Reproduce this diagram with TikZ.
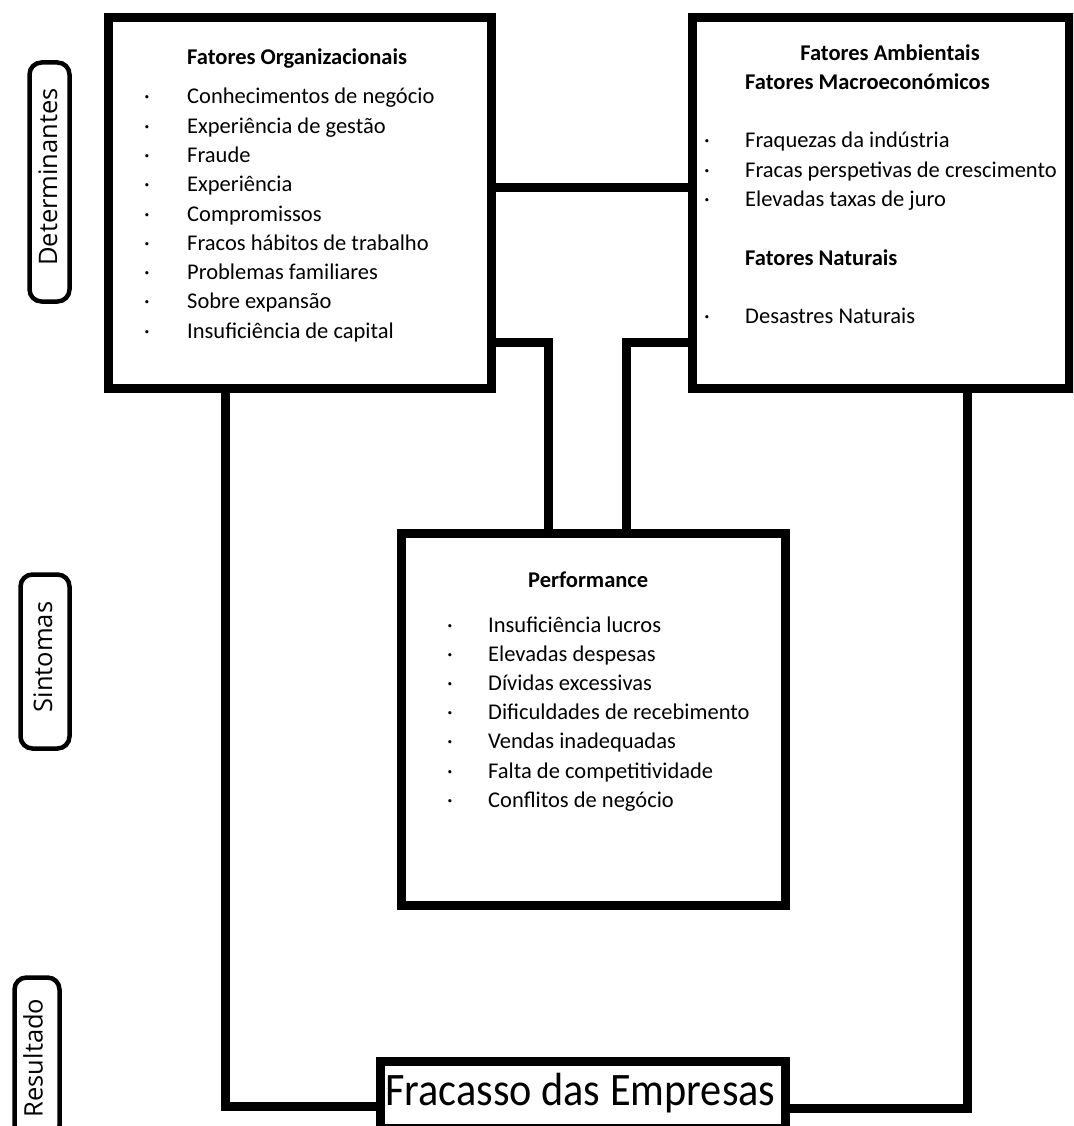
\documentclass[tikz,border=0pt]{standalone}
\usepackage{fontspec}
\usepackage{graphicx}
\setmainfont{Carlito}
\newfontfamily\tagfont{Open Sans}
\tikzset{
  bigbox/.style={draw, rectangle, line width=9pt, inner sep=0pt, outer sep=0pt},
  tagbox/.style={draw, rectangle, line width=4.5pt, rounded corners=12pt, inner sep=0pt, outer sep=0pt},
  tagtxt/.style={rotate=90, inner sep=0pt, font=\tagfont\fontsize{25.5}{30}\selectfont},
  conn/.style={line width=9pt},
  txt/.style={anchor=base west, inner sep=0pt, font=\fontsize{22.5}{27}\selectfont},
  hd/.style={anchor=base west, inner sep=0pt, font=\bfseries\fontsize{22.5}{27}\selectfont},
  bul/.style={anchor=base, inner sep=0pt, font=\fontsize{22.5}{27}\selectfont}
}
\begin{document}
\begin{tikzpicture}[x=1pt,y=-1pt]
\clip (0,0) rectangle (1073,1126);
\fill[white] (0,0) rectangle (1073,1126);

% main boxes
\node[bigbox, minimum width=383pt, minimum height=371pt] (org) at (299.5,202.75) {};
\node[bigbox, minimum width=377pt, minimum height=371pt] (env) at (880.5,202.75) {};
\node[bigbox, minimum width=383.5pt, minimum height=371.5pt] (perf) at (593.25,719.25) {};
\node[bigbox, minimum width=405pt, minimum height=67pt] (fail) at (582.5,1094.5) {};

% connector bends
\coordinate (jtop) at (0,187.5);
\coordinate (jl) at (548.5,342);
\coordinate (jr) at (626.5,342);
\coordinate (bl) at (225,1106);
\coordinate (br) at (967,1108);

\draw[conn] (org.east |- jtop) -- (env.west |- jtop);
\draw[conn] (org.east |- jl) -- (jl) -- (perf.north -| jl);
\draw[conn] (env.west |- jr) -- (jr) -- (perf.north -| jr);
\draw[conn] (org.south -| bl) -- (bl) -- (fail.west |- bl);
\draw[conn] (env.south -| br) -- (br) -- (fail.east |- br);

% side tags
\node[tagbox, minimum width=40pt, minimum height=239pt] (tdet) at (49.5,182) {};
\node[tagtxt] (tdettxt) at (48,177) {Determinantes};
\node[tagbox, minimum width=49pt, minimum height=174pt] (tsin) at (45,661.5) {};
\node[tagtxt] (tsintxt) at (43,657) {Sintomas};
\node[tagbox, minimum width=45pt, minimum height=160pt] (tres) at (37,1057.5) {};
\node[tagtxt] (trestxt) at (33,1058) {Resultado};

% Fatores Organizacionais
\node[hd] (orgh) at (187,65) {Fatores Organizacionais};
\foreach \t [count=\i from 0] in {Conhecimentos de negócio, Experiência de gestão, Fraude, Experiência, Compromissos, Fracos hábitos de trabalho, Problemas familiares, Sobre expansão, Insuficiência de capital}{
  \node[bul] (orgb\i) at (147,104+29.25*\i) {·};
  \node[txt] (orgt\i) at (187,104+29.25*\i) {\t};
}

% Fatores Ambientais
\node[hd, anchor=base] (envh1) at (890,61) {Fatores Ambientais};
\node[hd] (envh2) at (745,90) {Fatores Macroeconómicos};
\foreach \t [count=\i from 0] in {Fraquezas da indústria, Fracas perspetivas de crescimento, Elevadas taxas de juro}{
  \node[bul] (envb\i) at (707,148+29.5*\i) {·};
  \node[txt] (envt\i) at (745,148+29.5*\i) {\t};
}
\node[hd] (envh3) at (745,265) {Fatores Naturais};
\node[bul] (envb3) at (707,323) {·};
\node[txt] (envt3) at (745,323) {Desastres Naturais};

% Performance
\node[hd] (perfh) at (528,587) {Performance};
\foreach \t [count=\i from 0] in {Insuficiência lucros, Elevadas despesas, Dívidas excessivas, Dificuldades de recebimento, Vendas inadequadas, Falta de competitividade, Conflitos de negócio}{
  \node[bul] (perfb\i) at (450,632+29.2*\i) {·};
  \node[txt] (perft\i) at (488,632+29.2*\i) {\t};
}

% Fracasso
\node[anchor=base west, inner sep=0pt] (failtxt) at (385,1105) {\scalebox{1}[1.1]{\fontsize{42.3}{50}\selectfont Fracasso das Empresas}};
\end{tikzpicture}
\end{document}
